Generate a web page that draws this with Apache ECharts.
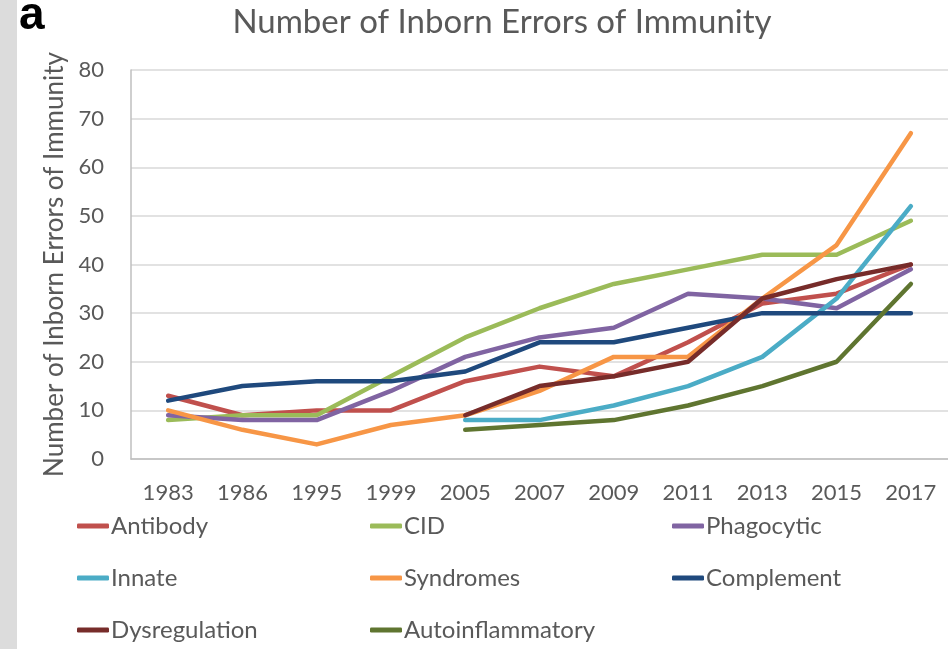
<!DOCTYPE html>
<html><head><meta charset="utf-8">
<script src="https://cdn.jsdelivr.net/npm/echarts@6/dist/echarts.min.js"></script>
<style>html,body{margin:0;padding:0;background:#fff}#strip{position:absolute;left:0;top:0;width:17px;height:649px;background:#dcdcdc}#c{width:948px;height:649px}</style>
</head><body><div id="strip"></div><div id="c"></div>
<script>
const years = ['1983','1986','1995','1999','2005','2007','2009','2011','2013','2015','2017'];
const antibody = [13, 9, 10, 10, 16, 19, 17, 24, 32, 34, 40];
const cid = [8, 9, 9, 17, 25, 31, 36, 39, 42, 42, 49];
const phagocytic = [9, 8, 8, 14, 21, 25, 27, 34, 33, 31, 39];
const innate = [null, null, null, null, 8, 8, 11, 15, 21, 33, 52];
const syndromes = [10, 6, 3, 7, 9, 14, 21, 21, 33, 44, 67];
const complement = [12, 15, 16, 16, 18, 24, 24, 27, 30, 30, 30];
const dysregulation = [null, null, null, null, 9, 15, 17, 20, 33, 37, 40];
const autoinflammatory = [null, null, null, null, 6, 7, 8, 11, 15, 20, 36];
const yTicks = [0, 10, 20, 30, 40, 50, 60, 70, 80];

const seriesDefs = [
  ['Antibody', antibody, '#C0504D'],
  ['CID', cid, '#9BBB59'],
  ['Phagocytic', phagocytic, '#8064A2'],
  ['Innate', innate, '#4BACC6'],
  ['Syndromes', syndromes, '#F79646'],
  ['Complement', complement, '#1F497D'],
  ['Dysregulation', dysregulation, '#772C2A'],
  ['Autoinflammatory', autoinflammatory, '#5F7530']
];
const font = 'Lato';
const txt = '#595959';
const legendCommon = {
  orient: 'vertical', top: 509, itemGap: 28, itemWidth: 32, itemHeight: 5,
  icon: 'roundRect', textStyle: {fontFamily: font, fontSize: 24, color: txt, padding: [0, 0, 0, -3]}, selectedMode: false
};
const chart = echarts.init(document.getElementById('c'));
chart.setOption({
  animation: false,
  title: [
    {text: 'Number of Inborn Errors of Immunity', left: 497, top: 1, textAlign: 'center',
     textStyle: {fontFamily: font, fontSize: 33, fontWeight: 'normal', color: txt}},
    {text: 'a', left: 14, top: -12, textStyle: {fontFamily: 'Liberation Sans', fontSize: 46, fontWeight: 'bold', color: '#000'}}
  ],
  grid: {left: 131, top: 70, width: 822, height: 389},
  legend: [
    Object.assign({left: 72, data: ['Antibody', 'Innate', 'Dysregulation']}, legendCommon),
    Object.assign({left: 365, data: ['CID', 'Syndromes', 'Autoinflammatory']}, legendCommon),
    Object.assign({left: 667, data: ['Phagocytic', 'Complement']}, legendCommon)
  ],
  xAxis: {
    type: 'category', data: years, boundaryGap: true,
    axisLine: {lineStyle: {color: '#bfbfbf', width: 1.5}}, axisTick: {show: false},
    axisLabel: {fontFamily: font, fontSize: 22, color: txt, margin: 23}
  },
  yAxis: {
    type: 'value', min: yTicks[0], max: yTicks[yTicks.length - 1], interval: 10,
    name: 'Number of Inborn Errors of Immunity', nameLocation: 'middle', nameGap: 60,
    nameTextStyle: {fontFamily: font, fontSize: 26, color: txt},
    axisLine: {show: true, lineStyle: {color: '#bfbfbf', width: 1.5}}, axisTick: {show: false},
    axisLabel: {fontFamily: font, fontSize: 22, color: txt, margin: 27},
    splitLine: {lineStyle: {color: '#d9d9d9', width: 1.5}}
  },
  series: seriesDefs.map(([name, data, color]) => ({
    name, type: 'line', data, symbol: 'none', showSymbol: false,
    lineStyle: {color, width: 4.5, cap: 'round', join: 'round'}, itemStyle: {color},
    connectNulls: false
  }))
});
</script></body></html>
